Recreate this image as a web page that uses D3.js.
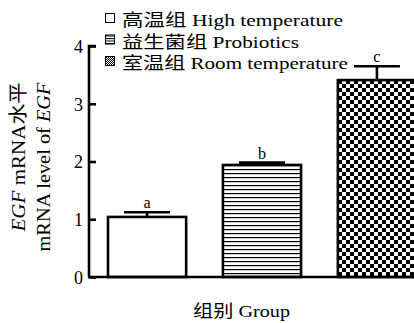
<!DOCTYPE html>
<html>
<head>
<meta charset="utf-8">
<script src="https://cdn.jsdelivr.net/npm/d3@7"></script>
<style>
  body { margin: 0; background: #fff; }
  svg text { font-family: "Liberation Serif", "Times New Roman", "Noto Sans CJK SC", serif; fill: #000; }
</style>
</head>
<body>
<div id="chart"></div>
<script>
var groups = ["高温组 High temperature", "益生菌组 Probiotics", "室温组 Room temperature"];
var values = [1.04, 1.94, 3.41];
var errors = [0.08, 0.04, 0.24];
var letters = ["a", "b", "c"];
var yTicks = [0, 1, 2, 3, 4];
var fills = ["#fff", "url(#stripes)", "url(#checker)"];
// widths the legend lines take up in the picture
var legendLengths = [221, 177, 226];

var width = 414, height = 323;

var svg = d3.select('#chart')
  .append('svg')
    .attr('width', width)
    .attr('height', height);

var defs = svg.append('defs');

var stripes = defs.append('pattern')
  .attr('id', 'stripes')
  .attr('patternUnits', 'userSpaceOnUse')
  .attr('width', 8).attr('height', 4);
stripes.append('rect').attr('width', 8).attr('height', 4).attr('fill', '#fff');
stripes.append('rect').attr('y', 1).attr('width', 8).attr('height', 1.2).attr('fill', '#000');

var checker = defs.append('pattern')
  .attr('id', 'checker')
  .attr('patternUnits', 'userSpaceOnUse')
  .attr('x', 338).attr('y', 80)
  .attr('width', 8).attr('height', 8);
checker.append('rect').attr('width', 8).attr('height', 8).attr('fill', '#fff');
checker.append('rect').attr('width', 4).attr('height', 4).attr('fill', '#000');
checker.append('rect').attr('x', 4).attr('y', 4).attr('width', 4).attr('height', 4).attr('fill', '#000');

var smallChecker = defs.append('pattern')
  .attr('id', 'smallChecker')
  .attr('patternUnits', 'userSpaceOnUse')
  .attr('width', 2).attr('height', 2);
smallChecker.append('rect').attr('width', 2).attr('height', 2).attr('fill', '#fff');
smallChecker.append('rect').attr('width', 1).attr('height', 1).attr('fill', '#000');
smallChecker.append('rect').attr('x', 1).attr('y', 1).attr('width', 1).attr('height', 1).attr('fill', '#000');

var smallStripes = defs.append('pattern')
  .attr('id', 'smallStripes')
  .attr('patternUnits', 'userSpaceOnUse')
  .attr('y', 1)
  .attr('width', 4).attr('height', 2.5);
smallStripes.append('rect').attr('width', 4).attr('height', 2.5).attr('fill', '#fff');
smallStripes.append('rect').attr('width', 4).attr('height', 1).attr('fill', '#000');

var x = d3.scaleBand()
  .domain(groups)
  .range([88, 436])
  .paddingInner(0.32)
  .paddingOuter(0.174);

var y = d3.scaleLinear()
  .domain([0, 4])
  .range([277, 46]);

// bars
svg.selectAll('.bar')
  .data(values)
  .enter().append('rect')
    .attr('class', 'bar')
    .attr('x', function(d, i) { return x(groups[i]); })
    .attr('y', function(d) { return y(d); })
    .attr('width', x.bandwidth())
    .attr('height', function(d) { return y(0) - y(d); })
    .attr('fill', function(d, i) { return fills[i]; })
    .attr('stroke', '#000')
    .attr('stroke-width', 2.6);

// error bars
var capW = 46;
svg.selectAll('.err')
  .data(values)
  .enter().append('path')
    .attr('class', 'err')
    .attr('fill', 'none')
    .attr('stroke', '#000')
    .attr('stroke-width', 2.6)
    .attr('d', function(d, i) {
      var cx = x(groups[i]) + x.bandwidth() / 2;
      var top = y(d + errors[i]);
      return 'M' + cx + ',' + y(d) + 'V' + top +
        'M' + (cx - capW / 2) + ',' + top + 'H' + (cx + capW / 2);
    });

svg.selectAll('.letter')
  .data(letters)
  .enter().append('text')
    .attr('class', 'letter')
    .attr('x', function(d, i) { return x(groups[i]) + x.bandwidth() / 2; })
    .attr('y', function(d, i) { return y(values[i] + errors[i]) - 4; })
    .attr('text-anchor', 'middle')
    .style('font-size', '16px')
    .text(function(d) { return d; });

// axes (ticks point inward)
var yAxis = svg.append('g')
  .attr('transform', 'translate(89,0)')
  .call(d3.axisRight(y).tickValues(yTicks).tickSize(7).tickFormat(d3.format('d')));
yAxis.select('.domain').attr('stroke-width', 2.6).attr('d', 'M7,' + y(4) + 'H0V' + y(0));
yAxis.selectAll('.tick line').attr('stroke-width', 2.6);
yAxis.selectAll('.tick text')
  .attr('x', -6)
  .attr('text-anchor', 'end')
  .attr('dy', '0.35em')
  .style('font-size', '18px');

svg.append('line')
  .attr('x1', 88).attr('x2', width)
  .attr('y1', y(0)).attr('y2', y(0))
  .attr('stroke', '#000').attr('stroke-width', 2.6);

// y label
var yl = svg.append('text')
  .attr('transform', 'translate(25,157) rotate(-90)')
  .attr('text-anchor', 'middle')
  .attr('textLength', 149)
  .attr('lengthAdjust', 'spacingAndGlyphs')
  .style('font-size', '19px');
yl.append('tspan').style('font-style', 'italic').text('EGF');
yl.append('tspan').text(' mRNA水平');

var yl2 = svg.append('text')
  .attr('transform', 'translate(50,167) rotate(-90)')
  .attr('text-anchor', 'middle')
  .attr('textLength', 169)
  .attr('lengthAdjust', 'spacingAndGlyphs')
  .style('font-size', '19px');
yl2.append('tspan').text('mRNA level of ');
yl2.append('tspan').style('font-style', 'italic').text('EGF');

// x label
svg.append('text')
  .attr('x', 193).attr('y', 317)
  .attr('textLength', 97)
  .attr('lengthAdjust', 'spacingAndGlyphs')
  .style('font-size', '17px')
  .text('组别 Group');

// legend
var legendFills = ['#fff', 'url(#smallStripes)', 'url(#smallChecker)'];
var legend = svg.selectAll('.legend')
  .data(groups)
  .enter().append('g')
    .attr('class', 'legend')
    .attr('transform', function(d, i) { return 'translate(105,' + (13 + i * 21.5) + ')'; });

legend.append('rect')
  .attr('x', 0.5).attr('y', 0.5)
  .attr('width', 9).attr('height', 9)
  .attr('fill', function(d, i) { return legendFills[i]; })
  .attr('stroke', '#000').attr('stroke-width', 1);

legend.append('text')
  .attr('x', 17).attr('y', 13)
  .attr('textLength', function(d, i) { return legendLengths[i]; })
  .attr('lengthAdjust', 'spacingAndGlyphs')
  .style('font-size', '17px')
  .text(function(d) { return d; });
</script>
</body>
</html>
